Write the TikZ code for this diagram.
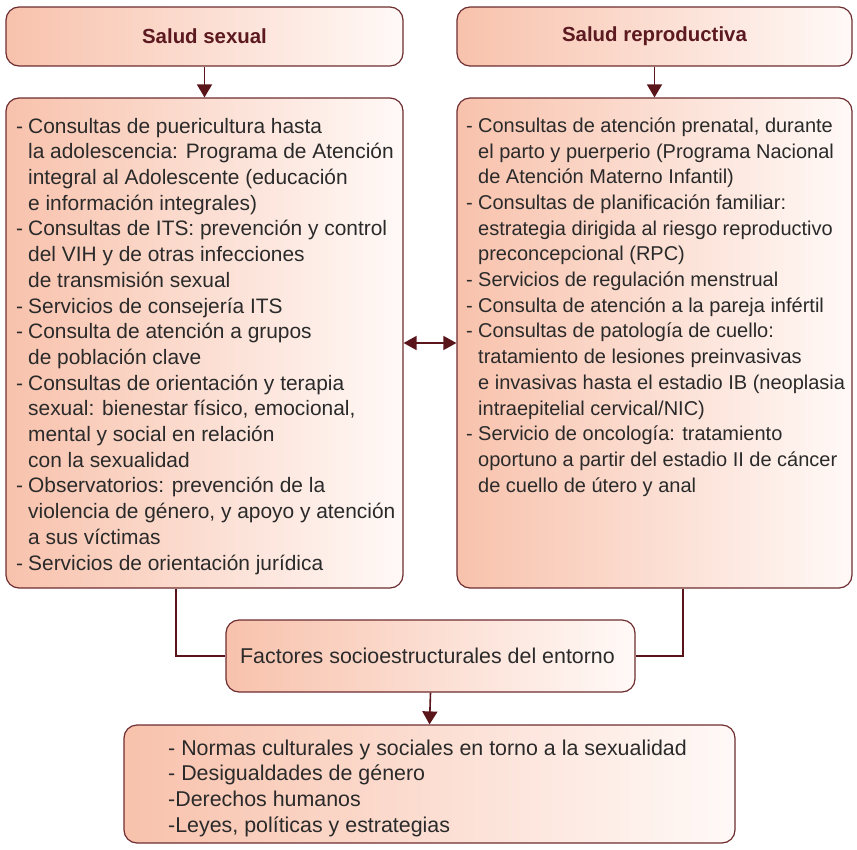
\documentclass[tikz,border=0pt]{standalone}
\usepackage{fontspec}
\setmainfont{Liberation Sans}
\usetikzlibrary{arrows.meta}

\definecolor{boxedge}{HTML}{6E2D30}
\definecolor{arrowcol}{HTML}{5A151B}
\definecolor{salmon}{HTML}{F8C2AC}
\definecolor{paleend}{HTML}{FFF9F7}
\definecolor{titletext}{HTML}{5C1A20}
\definecolor{bodytext}{HTML}{2A2A2A}

% hanging bullet helpers
\newcommand{\dashitem}[1]{\makebox[12pt][l]{-}#1}
\newcommand{\contline}[1]{\hspace*{12pt}#1}

\tikzset{
  panel/.style={draw=boxedge, line width=1.2pt, rounded corners=13pt,
    left color=salmon, right color=paleend, inner sep=0pt},
  titletxt/.style={font=\fontsize{20.4}{24}\selectfont\bfseries, text=titletext},
  bodytxt/.style={font=\fontsize{21.4}{25.7}\selectfont, text=bodytext},
  listtext/.style={anchor=north west, inner sep=0pt, align=left, text=bodytext},
  leftfont/.style={font=\fontsize{20.9}{25.7}\selectfont},
  rightfont/.style={font=\fontsize{20.0}{25.7}\selectfont},
  link/.style={draw=arrowcol, line width=1.6pt},
  tip/.style={-{Triangle[length=13pt,width=15pt]}},
  bothtips/.style={{Triangle[length=13pt,width=14pt]}-{Triangle[length=13pt,width=14pt]}}
}

\begin{document}
\begin{tikzpicture}[x=1pt,y=1pt]
\useasboundingbox (0,0) rectangle (857,-849);

% headings
\node[panel, titletxt, minimum width=397pt, minimum height=59pt] (t1) at (204.5,-36.5) {Salud sexual};
\node[panel, titletxt, minimum width=395pt, minimum height=59pt] (t2) at (654.5,-36.5) {Salud reproductiva};

% service panels
\node[panel, minimum width=397pt, minimum height=490pt] (b1) at (204.5,-343) {};
\node[panel, minimum width=395pt, minimum height=490pt] (b2) at (654.5,-343) {};

% factors
\node[panel, minimum width=409pt, minimum height=72pt] (fx) at (430.5,-656) {};
\node[bodytxt, inner sep=0pt] (fxt) at (427.5,-656) {Factores socioestructurales del entorno};

% determinants
\node[panel, minimum width=611pt, minimum height=118pt] (bt) at (429.5,-784) {};

% panel contents
\node[listtext, leftfont] (l1) at (16,-117.8) {%
\dashitem{Consultas de puericultura hasta}\\
\contline{la adolescencia: Programa de Atención}\\
\contline{integral al Adolescente (educación}\\
\contline{e información integrales)}\\
\dashitem{Consultas de ITS: prevención y control}\\
\contline{del VIH y de otras infecciones}\\
\contline{de transmisión sexual}\\
\dashitem{Servicios de consejería ITS}\\
\dashitem{Consulta de atención a grupos}\\
\contline{de población clave}\\
\dashitem{Consultas de orientación y terapia}\\
\contline{sexual: bienestar físico, emocional,}\\
\contline{mental y social en relación}\\
\contline{con la sexualidad}\\
\dashitem{Observatorios: prevención de la}\\
\contline{violencia de género, y apoyo y atención}\\
\contline{a sus víctimas}\\
\dashitem{Servicios de orientación jurídica}};

\node[listtext, rightfont] (l2) at (466,-117.4) {%
\dashitem{Consultas de atención prenatal, durante}\\
\contline{el parto y puerperio (Programa Nacional}\\
\contline{de Atención Materno Infantil)}\\
\dashitem{Consultas de planificación familiar:}\\
\contline{estrategia dirigida al riesgo reproductivo}\\
\contline{preconcepcional (RPC)}\\
\dashitem{Servicios de regulación menstrual}\\
\dashitem{Consulta de atención a la pareja infértil}\\
\dashitem{Consultas de patología de cuello:}\\
\contline{tratamiento de lesiones preinvasivas}\\
\contline{e invasivas hasta el estadio IB (neoplasia}\\
\contline{intraepitelial cervical/NIC)}\\
\dashitem{Servicio de oncología: tratamiento}\\
\contline{oportuno a partir del estadio II de cáncer}\\
\contline{de cuello de útero y anal}};

\node[listtext, bodytxt] (l3) at (168,-739.5) {%
- Normas culturales y sociales en torno a la sexualidad\\
- Desigualdades de género\\
-Derechos humanos\\
-Leyes, políticas y estrategias};

% connectors
\draw[link, tip] (t1.south) -- (b1.north);
\draw[link, tip] (t2.south) -- (b2.north);
\draw[link, bothtips] (b1.east) -- (b2.west);
\draw[link] ([xshift=-28.5pt]b1.south) |- (fx.west);
\draw[link] ([xshift=28.5pt]b2.south) |- (fx.east);
\draw[link, tip] (fx.south) -- (bt.north);
\end{tikzpicture}
\end{document}
